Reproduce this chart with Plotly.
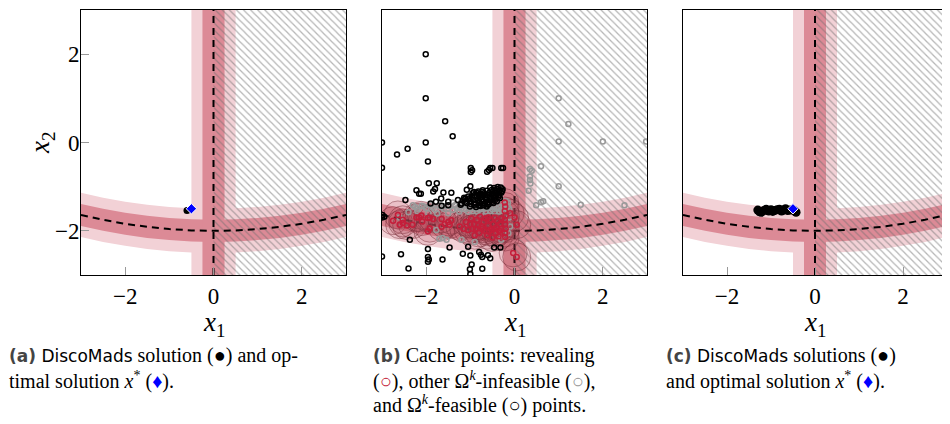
import plotly.graph_objects as go

# constraint curve x2 = c(x1)
curve_x = [-3.0, -2.5, -2.0, -1.5, -1.0, -0.5, 0.0, 0.5, 1.0, 1.5, 2.0, 2.5, 3.0]
curve_y = [-1.64, -1.75, -1.84, -1.91, -1.96, -1.99, -2.0, -1.99, -1.96, -1.91, -1.84, -1.75, -1.64]

# (a) DiscoMads solution and optimum
sol_a_x = [-0.6]
sol_a_y = [-1.54]
opt_x = [-0.5]
opt_y = [-1.5]

# (c) DiscoMads solutions
sol_c_x = [-1.30, -1.26, -1.22, -1.16, -1.11, -1.05, -1.0, -0.96, -0.92, -0.86, -0.81, -0.76, -0.72, -0.67, -0.62, -0.56, -0.5, -0.46, -0.43]
sol_c_y = [-1.53, -1.57, -1.58, -1.54, -1.51, -1.55, -1.52, -1.56, -1.54, -1.52, -1.51, -1.55, -1.53, -1.5, -1.54, -1.53, -1.52, -1.55, -1.58]

# (b) cache points: feasible (black)
feas_x = [-2.01, -2.01, -1.57, -1.40, -2.01, -3.0, -2.66, -2.42, -3.0, -1.96, -1.94, -1.76, -1.80, -1.84,
          -2.22, -2.16, -2.12, -1.61, -1.43, -2.47, -1.66, -1.78, -1.90, -1.50, -1.50, -1.65,
          -0.99, -0.99, -0.96, -0.62, -0.58, -0.55, -0.50, -0.30, -0.26, -1.0, -1.08,
          -0.55, -0.46, -0.38, -0.31, -0.72, -0.63, -0.51, -0.43, -0.34,
          -0.95, -0.86, -0.77, -0.69, -0.57, -0.49, -0.41, -0.30,
          -1.05, -0.96, -0.85, -0.75, -0.67, -0.55, -0.47, -0.36,
          -1.28, -1.16, -1.04, -0.93, -0.83, -0.75, -0.64, -0.53, -0.44,
          -1.20, -1.09, -0.99, -0.88, -0.79, -0.67, -0.58, -0.48,
          -1.01, -0.87, -0.77, -0.63,
          -0.90, -0.81, -0.71, -0.61, -0.52, -0.42, -0.35, -1.12, -1.0, -0.9, -0.8, -0.7, -0.6, -0.5,
          -0.4, -0.33, -0.28, -1.22, -1.14,
          -0.92, -0.82, -0.73, -0.65, -0.53, -0.45, -0.39, -0.27, -1.11, -1.02, -0.9, -0.81, -0.7, -0.6,
          -2.99, -2.95, -3.0, -2.37, -2.57, -1.96, -1.47, -3.0, -1.96, -1.94, -1.96, -1.63, -2.40,
          -1.05, -1.17, -1.0, -0.80, -0.76, -0.73, -0.46, -0.32, -0.60, -0.55, -0.97, -1.0, -1.01, -0.73]
feas_y = [2.0, 1.0, 0.48, 0.14, 0.0, 0.0, -0.27, -0.14, -0.57, -0.43, -0.92, -0.92, -1.05, -1.11,
          -1.08, -1.16, -1.16, -1.13, -1.14, -1.30, -1.27, -1.34, -1.38, -1.34, -1.42, -1.43,
          -0.58, -0.67, -0.63, -0.66, -0.62, -0.58, -0.58, -0.58, -0.58, -0.99, -1.07,
          -1.02, -1.03, -1.01, -1.02, -1.08, -1.09, -1.07, -1.08, -1.09,
          -1.15, -1.14, -1.16, -1.15, -1.14, -1.16, -1.15, -1.14,
          -1.22, -1.23, -1.21, -1.22, -1.24, -1.22, -1.21, -1.23,
          -1.30, -1.31, -1.29, -1.30, -1.31, -1.29, -1.30, -1.31, -1.30,
          -1.38, -1.37, -1.39, -1.38, -1.37, -1.38, -1.39, -1.37,
          -1.45, -1.46, -1.44, -1.45,
          -1.19, -1.18, -1.20, -1.19, -1.18, -1.20, -1.19, -1.34, -1.33, -1.35, -1.34, -1.33, -1.35, -1.34,
          -1.33, -1.26, -1.10, -1.41, -1.25,
          -1.12, -1.11, -1.12, -1.26, -1.27, -1.26, -1.05, -1.06, -1.27, -1.26, -1.41, -1.42, -1.42, -1.41,
          -1.64, -1.68, -1.70, -2.2, -2.53, -2.41, -2.38, -2.58, -2.59, -2.65, -2.70, -2.65, -2.85,
          -2.36, -2.52, -2.56, -2.48, -2.54, -2.59, -2.38, -2.38, -2.55, -2.62, -2.76, -2.98, -2.87, -2.86]

# (b) other infeasible (gray)
inf_x = [1.0, 1.22, 1.0, 2.0, 2.98, 0.6, 0.39, 0.35, 0.35, 0.36, 1.0, 0.32, 0.6, 0.49, 1.5, 2.49, 0.35, 0.65,
         -0.3, -0.2, -0.15, -1.4, -1.2,
         -2.3, -2.1, -1.9, -1.7, -1.55, -1.35, -1.15, -0.2,
         -2.2, -2.0, -1.8, -1.6, -1.4, -1.3, -1.2, -1.1, -1.0, -0.9, -0.8, -0.7, -0.6, -0.5, -0.4, -0.3, -0.2, -0.12,
         -1.25, -1.05, -0.95, -0.85, -0.75, -0.65, -0.55, -0.45, -0.35, -0.25,
         -2.25, -2.05, -1.85, -1.65, -1.45, -1.25, -1.15, -1.05, -0.95, -0.85, -0.75, -0.65, -0.55, -0.45,
         -0.35, -0.25, -0.15, -2.4, -1.95, -1.75, -1.5,
         -0.12, -0.1, -0.14, -1.7, -1.63, -1.77, -1.54, -0.3, -0.9, -1.2, -2.6, -2.2]
inf_y = [1.0, 0.42, 0.02, 0.02, 0.02, -0.54, -0.64, -0.77, -0.85, -0.93, -0.99, -1.09, -1.35, -1.42, -1.41, -1.42, -0.6, -1.33,
         -1.35, -1.33, -1.36, -1.36, -1.34,
         -1.42, -1.43, -1.41, -1.42, -1.44, -1.42, -1.41, -1.43,
         -1.5, -1.49, -1.51, -1.5, -1.52, -1.49, -1.5, -1.51, -1.49, -1.5, -1.52, -1.5, -1.49, -1.51, -1.5, -1.52, -1.49, -1.5,
         -1.56, -1.57, -1.55, -1.56, -1.58, -1.56, -1.55, -1.57, -1.56, -1.55,
         -1.46, -1.45, -1.47, -1.46, -1.45, -1.47, -1.44, -1.46, -1.45, -1.47, -1.46, -1.44, -1.46, -1.45,
         -1.47, -1.46, -1.45, -1.58, -1.6, -1.61, -1.6,
         -1.7, -1.9, -2.05, -2.18, -2.16, -1.98, -2.2, -2.2, -2.25, -2.2, -1.7, -1.55]

# (b) revealing points (red)
rev_x = [-2.75, -2.64, -2.6, -2.53, -2.53, -2.44, -2.31, -2.22, -2.16, -2.11, -2.09, -1.96, -1.92, -1.92, -1.96,
         -1.84, -1.65, -1.58, -1.47, -1.43, -1.65, -1.50, -1.24, -1.15, -1.05, -1.1,
         -0.98, -0.92, -0.88, -0.85, -0.8, -0.78, -0.75, -0.7, -0.68, -0.65, -0.62, -0.6, -0.55, -0.52, -0.5,
         -0.48, -0.45, -0.42, -0.4, -0.38, -0.35, -0.33, -0.3,
         -0.95, -0.9, -0.72, -0.58, -0.46, -0.36, -0.6, -0.82, -1.0, -0.3,
         -0.22, -0.21, -0.22, -0.2, -0.22, -0.21, -0.2, -0.22, -0.21,
         -0.1, 0.0, 0.05, -0.03, 0.05]
rev_y = [-1.77, -1.64, -1.86, -1.82, -1.75, -1.88, -1.86, -1.70, -1.70, -1.65, -1.79, -1.71, -1.70, -1.94, -2.01,
         -1.73, -1.91, -1.85, -1.86, -1.76, -1.73, -1.80, -1.90, -1.95, -1.98, -1.8,
         -1.72, -1.85, -1.95, -1.75, -2.05, -1.68, -1.9, -1.8, -2.0, -1.72, -2.1, -1.88, -1.75, -1.98, -2.15,
         -1.85, -1.7, -2.05, -1.92, -1.78, -2.0, -1.85, -1.72,
         -1.95, -2.1, -1.95, -2.02, -1.95, -2.12, -1.7, -1.88, -1.85, -1.95,
         -1.36, -1.45, -1.55, -1.65, -1.75, -1.85, -1.95, -2.05, -2.14,
         -1.6, -1.7, -1.86, -2.5, -2.59]

SANS = "<span style='font-family:DejaVu Sans;font-size:17px'>"
captions = {
    "a": [SANS + "<b style='color:#444'>(a)</b> DiscoMads</span> solution (●) and op-",
          "timal solution <i>x</i><sup>*</sup> (<span style='color:#0000ff'>♦</span>)."],
    "b": [SANS + "<b style='color:#444'>(b)</b></span> Cache points: revealing",
          "(<span style='color:#c41e3a'><b>○</b></span>), other Ω<sup><i>k</i></sup>-infeasible (<span style='color:#999'><b>○</b></span>),",
          "and Ω<sup><i>k</i></sup>-feasible (<b>○</b>) points."],
    "c": [SANS + "<b style='color:#444'>(c)</b> DiscoMads</span> solutions (●)",
          "and optimal solution <i>x</i><sup>*</sup> (<span style='color:#0000ff'>♦</span>)."],
}

# the page body adds an 8 px offset, so the figure is drawn 8 px smaller
OFF = 8
W, H = 950 - OFF, 424 - OFF
LIGHT = "#f2d1d6"
DARK = "#dc8a96"
x_dom = [(81, 346), (382, 647), (683, 947)]
serif = "Liberation Serif"


def fx(px):
    return (px - OFF) / W


def fy(py):
    return 1 - (py - OFF) / H


y_dom = [fy(275), fy(10)]

fig = go.Figure()


def band(xa, ya, w, color):
    up = [y + w for y in curve_y]
    lo = [y - w for y in curve_y]
    fig.add_trace(go.Scatter(x=curve_x + curve_x[::-1], y=up + lo[::-1], fill="toself", fillcolor=color,
                             mode="lines", line=dict(width=0), xaxis=xa, yaxis=ya, hoverinfo="skip", showlegend=False))
    fig.add_trace(go.Scatter(x=[-w, w, w, -w], y=[-3, -3, 3, 3], fill="toself", fillcolor=color,
                             mode="lines", line=dict(width=0), xaxis=xa, yaxis=ya, hoverinfo="skip", showlegend=False))


for i, suf in enumerate(["", "2", "3"]):
    xa, ya = "x" + suf, "y" + suf
    band(xa, ya, 0.5, LIGHT)
    band(xa, ya, 0.25, DARK)
    fig.add_trace(go.Scatter(x=[0, 3, 3, 0], y=[-3, -3, 3, 3], fill="toself", fillcolor="rgba(0,0,0,0)",
                             fillpattern=dict(shape="\\", fgcolor="#6e6e6e", bgcolor="rgba(0,0,0,0)", size=5, solidity=0.25),
                             mode="lines", line=dict(width=0), xaxis=xa, yaxis=ya, hoverinfo="skip", showlegend=False))
    fig.add_trace(go.Scatter(x=curve_x, y=curve_y, mode="lines", line=dict(color="black", width=2, dash="7px,5px"),
                             xaxis=xa, yaxis=ya, hoverinfo="skip", showlegend=False))
    fig.add_trace(go.Scatter(x=[0, 0], y=[-3, 3], mode="lines", line=dict(color="black", width=2, dash="7px,5px"),
                             xaxis=xa, yaxis=ya, hoverinfo="skip", showlegend=False))

    x0, x1 = x_dom[i]
    fig.update_layout(**{
        "xaxis" + suf: dict(domain=[fx(x0), fx(x1)], anchor=ya, range=[-3, 3], showgrid=False, zeroline=False,
                            showline=True, mirror=True, linecolor="black", linewidth=1, automargin=False,
                            ticks="inside", ticklen=8, tickcolor="#999", tickvals=[-2, 0, 2], ticklabelstandoff=0,
                            ticktext=["−2", "0", "2"], tickfont=dict(family=serif, size=23, color="black")),
        "yaxis" + suf: dict(domain=y_dom, anchor=xa, range=[-3, 3], showgrid=False, zeroline=False,
                            showline=True, mirror=True, linecolor="black", linewidth=1, automargin=False,
                            ticks="inside" if i == 0 else "", ticklen=8, tickcolor="#999", tickvals=[-2, 0, 2],
                            ticktext=["−2", "0", "2"], showticklabels=(i == 0), ticklabelstandoff=-4,
                            tickfont=dict(family=serif, size=23, color="black")),
    })
    # x1 label
    fig.add_annotation(text="<i>x</i><sub>1</sub>", x=0, xref=xa, y=fy(306), yref="paper",
                       xanchor="center", yanchor="top", showarrow=False, borderpad=0,
                       font=dict(family=serif, size=27, color="black"))

fig.add_annotation(text="<i>x</i><sub>2</sub>", x=fx(42), xref="paper", y=fy(143), yref="paper",
                   xanchor="center", yanchor="middle", textangle=-90, showarrow=False,
                   font=dict(family=serif, size=27, color="black"))

# panel (a)
fig.add_trace(go.Scatter(x=sol_a_x, y=sol_a_y, mode="markers", marker=dict(color="black", size=7),
                         xaxis="x", yaxis="y", showlegend=False))
fig.add_trace(go.Scatter(x=opt_x, y=opt_y, mode="markers",
                         marker=dict(color="blue", size=8, symbol="diamond", line=dict(color="white", width=1)),
                         xaxis="x", yaxis="y", showlegend=False))

# panel (b)
fig.add_trace(go.Scatter(x=rev_x, y=rev_y, mode="markers",
                         marker=dict(size=28, color="rgba(185,70,90,0.12)", line=dict(color="rgba(110,40,50,0.45)", width=1)),
                         xaxis="x2", yaxis="y2", hoverinfo="skip", showlegend=False))
fig.add_trace(go.Scatter(x=inf_x, y=inf_y, mode="markers",
                         marker=dict(size=5, symbol="circle-open", color="#999999", line=dict(width=1.5)),
                         xaxis="x2", yaxis="y2", showlegend=False))
fig.add_trace(go.Scatter(x=feas_x, y=feas_y, mode="markers",
                         marker=dict(size=5, symbol="circle-open", color="black", line=dict(width=1.5)),
                         xaxis="x2", yaxis="y2", showlegend=False))
fig.add_trace(go.Scatter(x=rev_x, y=rev_y, mode="markers",
                         marker=dict(size=5, symbol="circle-open", color="#c41e3a", line=dict(width=1.5)),
                         xaxis="x2", yaxis="y2", showlegend=False))

# panel (c)
fig.add_trace(go.Scatter(x=sol_c_x, y=sol_c_y, mode="markers", marker=dict(color="black", size=9),
                         xaxis="x3", yaxis="y3", showlegend=False))
fig.add_trace(go.Scatter(x=opt_x, y=opt_y, mode="markers",
                         marker=dict(color="blue", size=8, symbol="diamond", line=dict(color="white", width=1)),
                         xaxis="x3", yaxis="y3", showlegend=False))

# captions
cap_x = {"a": 8, "b": 372, "c": 665}
line_y = [355, 380, 404]
for key, lines in captions.items():
    for j, txt in enumerate(lines):
        fig.add_annotation(text=txt, x=fx(cap_x[key]), xref="paper", y=fy(line_y[j]), yref="paper",
                           xanchor="left", yanchor="middle", showarrow=False, align="left", borderpad=0,
                           font=dict(family=serif, size=20, color="black"))

fig.update_layout(width=W, height=H, margin=dict(l=0, r=0, t=0, b=0),
                  paper_bgcolor="white", plot_bgcolor="white")
fig.write_html("out.html")
